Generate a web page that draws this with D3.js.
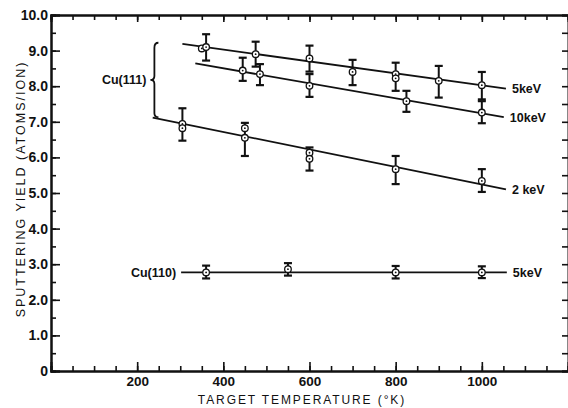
<!DOCTYPE html>
<html>
<head>
<meta charset="utf-8">
<script src="https://cdn.jsdelivr.net/npm/d3@7"></script>
<style>
  body { margin: 0; background: #fff; }
  svg { display: block; }
  text { font-family: "Liberation Sans", Arial, sans-serif; fill: #111; }
  .axis path, .axis line { stroke: #111; }
  .axis path { stroke-width: 2; }
  .axis line { stroke-width: 1.6; }
</style>
</head>
<body>
<div id="grafica"></div>
<script>
// datos: t (K), y (atoms/ion), lo/hi = barra de error
const cu111_5keV = [
  { t: 350, y: 9.06 },
  { t: 360, y: 9.10, lo: 8.72, hi: 9.46 },
  { t: 475, y: 8.90, lo: 8.55, hi: 9.25 },
  { t: 600, y: 8.78, lo: 8.41, hi: 9.14 },
  { t: 700, y: 8.40, lo: 8.03, hi: 8.74 },
  { t: 800, y: 8.34, lo: 7.87, hi: 8.66 },
  { t: 800, y: 8.22 },
  { t: 900, y: 8.15, lo: 7.68, hi: 8.57 },
  { t: 1000, y: 8.03, lo: 7.63, hi: 8.40 }
];
const cu111_10keV = [
  { t: 445, y: 8.44, lo: 8.15, hi: 8.80 },
  { t: 485, y: 8.34, lo: 8.03, hi: 8.62 },
  { t: 600, y: 8.01, lo: 7.70, hi: 8.34 },
  { t: 825, y: 7.58, lo: 7.28, hi: 7.87 },
  { t: 1000, y: 7.26, lo: 6.96, hi: 7.58 }
];
const cu111_2keV = [
  { t: 305, y: 6.94, lo: 6.47, hi: 7.38 },
  { t: 305, y: 6.82 },
  { t: 450, y: 6.82, lo: 6.04, hi: 6.97 },
  { t: 450, y: 6.55 },
  { t: 600, y: 6.13, lo: 5.63, hi: 6.28 },
  { t: 600, y: 5.96 },
  { t: 800, y: 5.67, lo: 5.25, hi: 6.04 },
  { t: 1000, y: 5.34, lo: 5.03, hi: 5.67 }
];
const cu110_5keV = [
  { t: 360, y: 2.77, lo: 2.60, hi: 2.96 },
  { t: 550, y: 2.86, lo: 2.68, hi: 3.03 },
  { t: 800, y: 2.77, lo: 2.60, hi: 2.95 },
  { t: 1000, y: 2.77, lo: 2.61, hi: 2.94 }
];

// rectas de ajuste (extremos) y etiquetas
const fitLines = [
  { name: "5keV", pts: [[305, 9.19], [1056, 7.93]] },
  { name: "10keV", pts: [[335, 8.64], [1051, 7.13]] },
  { name: "2 keV", pts: [[236, 7.12], [1056, 5.10]] },
  { name: "5keV", pts: [[302, 2.77], [1058, 2.77]] }
];
const xTickLabels = [200, 400, 600, 800, 1000];
const yTickLabels = [0, 1, 2, 3, 4, 5, 6, 7, 8, 9, 10];

const width = 568, height = 408;
const margin = { top: 15, right: 0, bottom: 37, left: 51 };

const xScale = d3.scaleLinear().domain([0, 1200]).range([margin.left, width - margin.right]);
const yScale = d3.scaleLinear().domain([0, 10]).range([height - margin.bottom, margin.top]);

const svg = d3.select("#grafica").append("svg")
  .attr("width", width)
  .attr("height", height);

// ejes (marcas hacia dentro)
const minorX = d3.range(0, 1201, 50);
const minorY = d3.range(0, 10.01, 0.5);

svg.append("g").attr("class", "axis")
  .attr("transform", `translate(0,${yScale(0)})`)
  .call(d3.axisBottom(xScale).tickValues(minorX).tickSize(-5).tickFormat(""));
svg.append("g").attr("class", "axis")
  .attr("transform", `translate(0,${yScale(0)})`)
  .call(d3.axisBottom(xScale).tickValues(xTickLabels).tickSize(-9).tickPadding(5).tickFormat(d3.format("d")))
  .call(g => g.selectAll("text").attr("font-size", 13.5).attr("font-weight", "bold").attr("fill", "#111"));

svg.append("g").attr("class", "axis")
  .attr("transform", `translate(0,${yScale(10)})`)
  .call(d3.axisTop(xScale).tickValues(minorX).tickSize(-5).tickFormat(""));
svg.append("g").attr("class", "axis")
  .attr("transform", `translate(0,${yScale(10)})`)
  .call(d3.axisTop(xScale).tickValues(xTickLabels).tickSize(-7).tickFormat(""));

svg.append("g").attr("class", "axis")
  .attr("transform", `translate(${xScale(0)},0)`)
  .call(d3.axisLeft(yScale).tickValues(minorY).tickSize(-5).tickFormat(""));
svg.append("g").attr("class", "axis")
  .attr("transform", `translate(${xScale(0)},0)`)
  .call(d3.axisLeft(yScale).tickValues(yTickLabels).tickSize(-9).tickPadding(3)
    .tickFormat(d => d === 0 ? "0" : d3.format(".1f")(d)))
  .call(g => g.selectAll("text").attr("font-size", 14).attr("font-weight", "bold").attr("fill", "#111"));

svg.append("g").attr("class", "axis")
  .attr("transform", `translate(${xScale(1200)},0)`)
  .call(d3.axisRight(yScale).tickValues(minorY).tickSize(-6).tickFormat(""));

// titulos de los ejes
svg.append("text")
  .attr("x", 302).attr("y", 404)
  .attr("text-anchor", "middle")
  .attr("font-size", 12)
  .attr("letter-spacing", "1.9px")
  .text("TARGET TEMPERATURE (°K)");

svg.append("text")
  .attr("transform", "translate(25,189) rotate(-90)")
  .attr("text-anchor", "middle")
  .attr("font-size", 12.5)
  .attr("letter-spacing", "2px")
  .text("SPUTTERING YIELD (ATOMS/ION)");

// rectas de ajuste
const line = d3.line().x(d => xScale(d[0])).y(d => yScale(d[1]));
svg.append("g").selectAll("path")
  .data(fitLines).enter()
  .append("path")
  .attr("d", d => line(d.pts))
  .attr("fill", "none")
  .attr("stroke", "#111")
  .attr("stroke-width", 1.8);

svg.append("g").selectAll("text")
  .data(fitLines).enter()
  .append("text")
  .attr("x", d => xScale(d.pts[1][0]) + 6)
  .attr("y", d => yScale(d.pts[1][1]))
  .attr("dy", "0.35em")
  .attr("font-size", 12.5)
  .attr("font-weight", "bold")
  .text(d => d.name);

// barras de error y marcadores
const allPoints = [cu111_5keV, cu111_10keV, cu111_2keV, cu110_5keV];
const capW = 4;
allPoints.forEach(serie => {
  const g = svg.append("g");
  const err = serie.filter(d => d.lo != null);
  g.selectAll(".bar").data(err).enter()
    .append("line")
    .attr("x1", d => xScale(d.t)).attr("x2", d => xScale(d.t))
    .attr("y1", d => yScale(d.lo)).attr("y2", d => yScale(d.hi))
    .attr("stroke", "#111").attr("stroke-width", 2);
  ["lo", "hi"].forEach(k => {
    g.selectAll(".cap-" + k).data(err).enter()
      .append("line")
      .attr("x1", d => xScale(d.t) - capW).attr("x2", d => xScale(d.t) + capW)
      .attr("y1", d => yScale(d[k])).attr("y2", d => yScale(d[k]))
      .attr("stroke", "#111").attr("stroke-width", 2.2);
  });
  g.selectAll(".mk").data(serie).enter()
    .append("circle")
    .attr("cx", d => xScale(d.t)).attr("cy", d => yScale(d.y))
    .attr("r", 3.3)
    .attr("fill", "#fff").attr("stroke", "#111").attr("stroke-width", 1.3);
  g.selectAll(".dot").data(serie).enter()
    .append("circle")
    .attr("cx", d => xScale(d.t)).attr("cy", d => yScale(d.y))
    .attr("r", 0.9)
    .attr("fill", "#111");
});

// llave y etiquetas de las muestras
const bx = xScale(240), bTop = yScale(9.22), bBot = yScale(7.13), bMid = (bTop + bBot) / 2;
svg.append("path")
  .attr("d", `M${bx + 4},${bTop} Q${bx},${bTop} ${bx},${bTop + 5} L${bx},${bMid - 4} Q${bx},${bMid} ${bx - 4},${bMid}` +
    ` Q${bx},${bMid} ${bx},${bMid + 4} L${bx},${bBot - 4} Q${bx},${bBot} ${bx + 4},${bBot}`)
  .attr("fill", "none")
  .attr("stroke", "#111")
  .attr("stroke-width", 1.8);

svg.append("text")
  .attr("x", bx - 8).attr("y", bMid)
  .attr("dy", "0.35em")
  .attr("text-anchor", "end")
  .attr("font-size", 12.5)
  .attr("font-weight", "bold")
  .text("Cu(111)");

svg.append("text")
  .attr("x", xScale(fitLines[3].pts[0][0]) - 5).attr("y", yScale(fitLines[3].pts[0][1]))
  .attr("dy", "0.35em")
  .attr("text-anchor", "end")
  .attr("font-size", 12.5)
  .attr("font-weight", "bold")
  .text("Cu(110)");
</script>
</body>
</html>
